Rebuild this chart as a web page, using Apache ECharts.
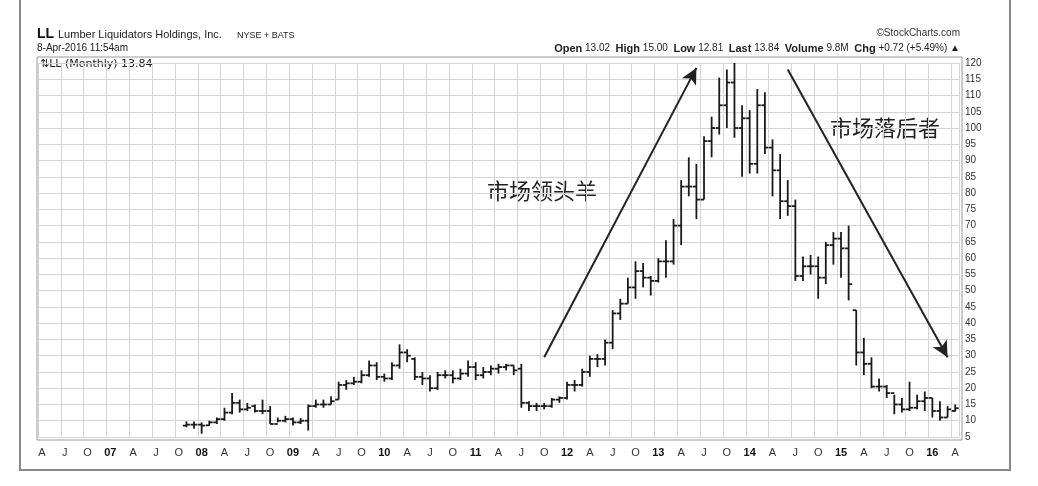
<!DOCTYPE html>
<html>
<head>
<meta charset="utf-8">
<script src="https://cdn.jsdelivr.net/npm/echarts@6/dist/echarts.min.js"></script>
<style>
  html, body { margin: 0; padding: 0; background: #fff; }
  #chart { width: 1038px; height: 486px; }
</style>
</head>
<body>
<div id="chart"></div>
<script>
// monthly bars, Nov 2007 .. Apr 2016
const firstBar = 19; // index of Nov 2007 on the Apr 2006 based axis
const close = [
  8.8, 8.8,
  8.5, 9.5, 10.5, 12.5, 15.5, 13.5, 14, 13, 13, 9, 10, 10.5,
  9.5, 10, 14.5, 15, 15, 16, 21, 21.5, 22, 24, 27, 23.5,
  23, 27, 31, 30, 23.5, 23, 20, 24, 24, 23, 24.5, 26.5,
  24, 25, 26, 26.5, 27, 25.5, 15.5, 14.5, 14.5, 14.5, 16.5, 17,
  21, 21, 25, 29, 29, 34, 43, 46, 51, 56, 54, 53,
  59, 59, 70, 82, 82, 78, 96, 100, 107, 114, 100, 103,
  89, 107, 94, 87, 77.5, 76, 54.5, 57.5, 57.5, 54, 64, 66,
  63, 52, 31, 27.5, 20.5, 20.5, 18.5, 15, 13.5, 14, 16, 17,
  13, 11, 13.5, 13.84
];
const open = [
  8.5, 8.8,
  8.8, 8.6, 9.5, 10.5, 12.5, 15.5, 13.5, 14.5, 13, 13, 9, 10,
  10.5, 9.5, 10, 14.5, 15, 15, 16.5, 21, 21.5, 22, 24, 27,
  23.5, 23, 27, 31, 29, 23.5, 23, 20, 24, 24, 23, 24.5,
  26.5, 24, 25, 26, 26.5, 27, 26, 15.5, 14.5, 14.5, 14.5, 16.5,
  17, 21, 21, 25, 29, 29, 34, 43, 46, 51, 56, 54,
  53, 59, 59, 70, 82, 82, 78, 96, 100, 107, 114, 100,
  103, 89, 107, 94, 87, 77.5, 76, 54.5, 57.5, 57.5, 54, 64,
  66, 63, 44, 31, 27.5, 20.5, 20.5, 18.5, 15, 13.5, 14, 16,
  17, 13, 11, 13.02
];
const high = [
  9.8, 9.8,
  9.5, 10, 11, 14, 18.5, 16.5, 15.5, 15, 16.5, 14.5, 11, 11.5,
  11, 10.8, 15, 16.5, 16.5, 17.5, 22, 22.5, 23.5, 25.5, 28.5, 28,
  24.5, 28, 33.5, 32, 29.5, 25, 24, 25, 25.5, 25.5, 26, 28.5,
  28, 26.5, 27, 27.5, 27.5, 27, 27.5, 16, 15.5, 15.5, 17, 17.5,
  22, 22.5, 26, 30, 30.5, 35, 44, 47.5, 54, 59, 58.5, 54.5,
  60, 65.5, 72, 84, 91, 89, 97.5, 103.5, 115.5, 118, 120, 107,
  105.5, 112, 111, 96.5, 92, 84, 78, 60.5, 61, 60.5, 65, 68,
  68, 70, 44, 35.5, 29.5, 23, 21, 18, 17, 22, 18, 19,
  17, 16, 14.5, 15
];
const low = [
  8, 7.5,
  6, 8.5, 9, 10, 12, 12.5, 13, 12.5, 12, 9, 9.5, 9.5,
  8.5, 9, 7, 14, 14, 15, 16.5, 19.5, 21, 21.5, 23.5, 22.5,
  22, 22.5, 26, 28, 22.5, 21, 19, 19.5, 23, 21.5, 22.5, 23.5,
  22.5, 23, 24, 24.5, 25.5, 24, 14, 13, 13, 13.5, 14, 15.5,
  16.5, 19, 20.5, 23.5, 26.5, 27, 32, 41, 46, 47.5, 51, 48.5,
  52.5, 54, 58, 64, 79, 72, 78, 91, 98, 100, 97, 85,
  86, 86, 92, 79, 72, 73, 53, 53, 55, 47.5, 52, 58,
  54, 47, 27, 24, 20, 19, 17, 12, 12.5, 13, 13.5, 13,
  11, 10, 11, 12.81
];
const yTicks = { min: 5, max: 120, step: 5 };
const quarterLetters = { 3: 'A', 6: 'J', 9: 'O' };

// Apr 2006 .. Apr 2016
const months = [];
for (let i = 0; i <= 120; i++) {
  const m = (3 + i) % 12;
  const y = 2006 + Math.floor((3 + i) / 12);
  months.push(y + '-' + String(m + 1).padStart(2, '0'));
}
const bars = close.map((c, i) => [firstBar + i, open[i], high[i], low[i], c]);

const chart = echarts.init(document.getElementById('chart'));

chart.setOption({
  animation: false,
  backgroundColor: '#fff',
  grid: { left: 38, right: 79, top: 63, bottom: 49 },
  xAxis: {
    type: 'category',
    data: months,
    boundaryGap: true,
    axisLine: { show: false },
    axisTick: { show: false },
    axisLabel: {
      interval: (i) => (i % 3) === 0,
      margin: 10,
      fontFamily: 'Liberation Sans, Arial',
      fontSize: 11,
      color: '#333',
      formatter: (v) => {
        const m = +v.slice(5) - 1;
        if (m === 0) return '{y|' + v.slice(2, 4) + '}';
        return quarterLetters[m] || '';
      },
      rich: { y: { fontWeight: 'bold', fontSize: 11, color: '#111' } }
    },
    splitLine: { show: true, interval: (i) => (i % 3) === 0, lineStyle: { color: '#d4d4d4', width: 1 } }
  },
  yAxis: {
    type: 'value',
    position: 'right',
    min: yTicks.min, max: yTicks.max, interval: yTicks.step,
    axisLine: { show: false },
    axisTick: { show: false },
    axisLabel: { margin: 6, fontFamily: 'Liberation Sans, Arial', fontSize: 10, color: '#333' },
    splitLine: { lineStyle: { color: '#d4d4d4', width: 1 } }
  },
  series: [{
    type: 'custom',
    data: bars,
    encode: { x: 0, y: [1, 2, 3, 4] },
    renderItem: (params, api) => {
      const x = api.value(0);
      const o = api.coord([x, api.value(1)]);
      const h = api.coord([x, api.value(2)]);
      const l = api.coord([x, api.value(3)]);
      const c = api.coord([x, api.value(4)]);
      const st = { stroke: '#1a1a1a', lineWidth: 1.8 };
      return {
        type: 'group',
        children: [
          { type: 'line', shape: { x1: h[0], y1: h[1], x2: l[0], y2: l[1] }, style: st },
          { type: 'line', shape: { x1: o[0] - 3.5, y1: o[1], x2: o[0], y2: o[1] }, style: st },
          { type: 'line', shape: { x1: c[0], y1: c[1], x2: c[0] + 3.5, y2: c[1] }, style: st }
        ]
      };
    },
    markLine: {
      silent: true,
      symbol: ['none', 'arrow'],
      symbolSize: [12, 16],
      label: { show: false },
      lineStyle: { color: '#222', width: 2, type: 'solid' },
      data: [
        [{ coord: [66, 29.5] }, { coord: [86, 118.5] }],
        [{ coord: [98, 118] }, { coord: [119, 29.5] }]
      ]
    }
  }],
  graphic: [
    { type: 'rect', shape: { x: 20, y: -4, width: 990, height: 474 }, style: { fill: 'none', stroke: '#888', lineWidth: 2 } },
    { type: 'rect', shape: { x: 37, y: 57, width: 925, height: 383 }, style: { fill: 'none', stroke: '#999', lineWidth: 1 } },
    { type: 'text', left: 37, top: 27, style: { text: 'LL', font: 'bold 14px Liberation Sans', fill: '#111' } },
    { type: 'text', left: 58, top: 29, style: { text: 'Lumber Liquidators Holdings, Inc.', font: '11px Liberation Sans', fill: '#222' } },
    { type: 'text', left: 237, top: 31, style: { text: 'NYSE + BATS', font: '9px Liberation Sans', fill: '#222' } },
    { type: 'text', left: 37, top: 43, style: { text: '8-Apr-2016 11:54am', font: '10px Liberation Sans', fill: '#222' } },
    { type: 'text', left: 40, top: 59, style: { text: '⇅LL (Monthly) 13.84', font: '11px DejaVu Sans', fill: '#222' } },
    { type: 'text', right: 78, top: 28, style: { text: '©StockCharts.com', font: '10px Liberation Sans', fill: '#333' } },
    { type: 'text', right: 78, top: 43, style: {
      text: '{b|Open} 13.02  {b|High} 15.00  {b|Low} 12.81  {b|Last} 13.84  {b|Volume} 9.8M  {b|Chg} +0.72 (+5.49%) ▲',
      font: '10px Liberation Sans', fill: '#222',
      rich: { b: { fontWeight: 'bold', fontSize: 11, fontFamily: 'Liberation Sans' } }
    } },
    { type: 'text', left: 487, top: 180, style: { text: '市场领头羊', font: '22px Noto Sans CJK SC', fill: '#222' } },
    { type: 'text', left: 830, top: 117, style: { text: '市场落后者', font: '22px Noto Sans CJK SC', fill: '#222' } }
  ]
});
</script>
</body>
</html>
